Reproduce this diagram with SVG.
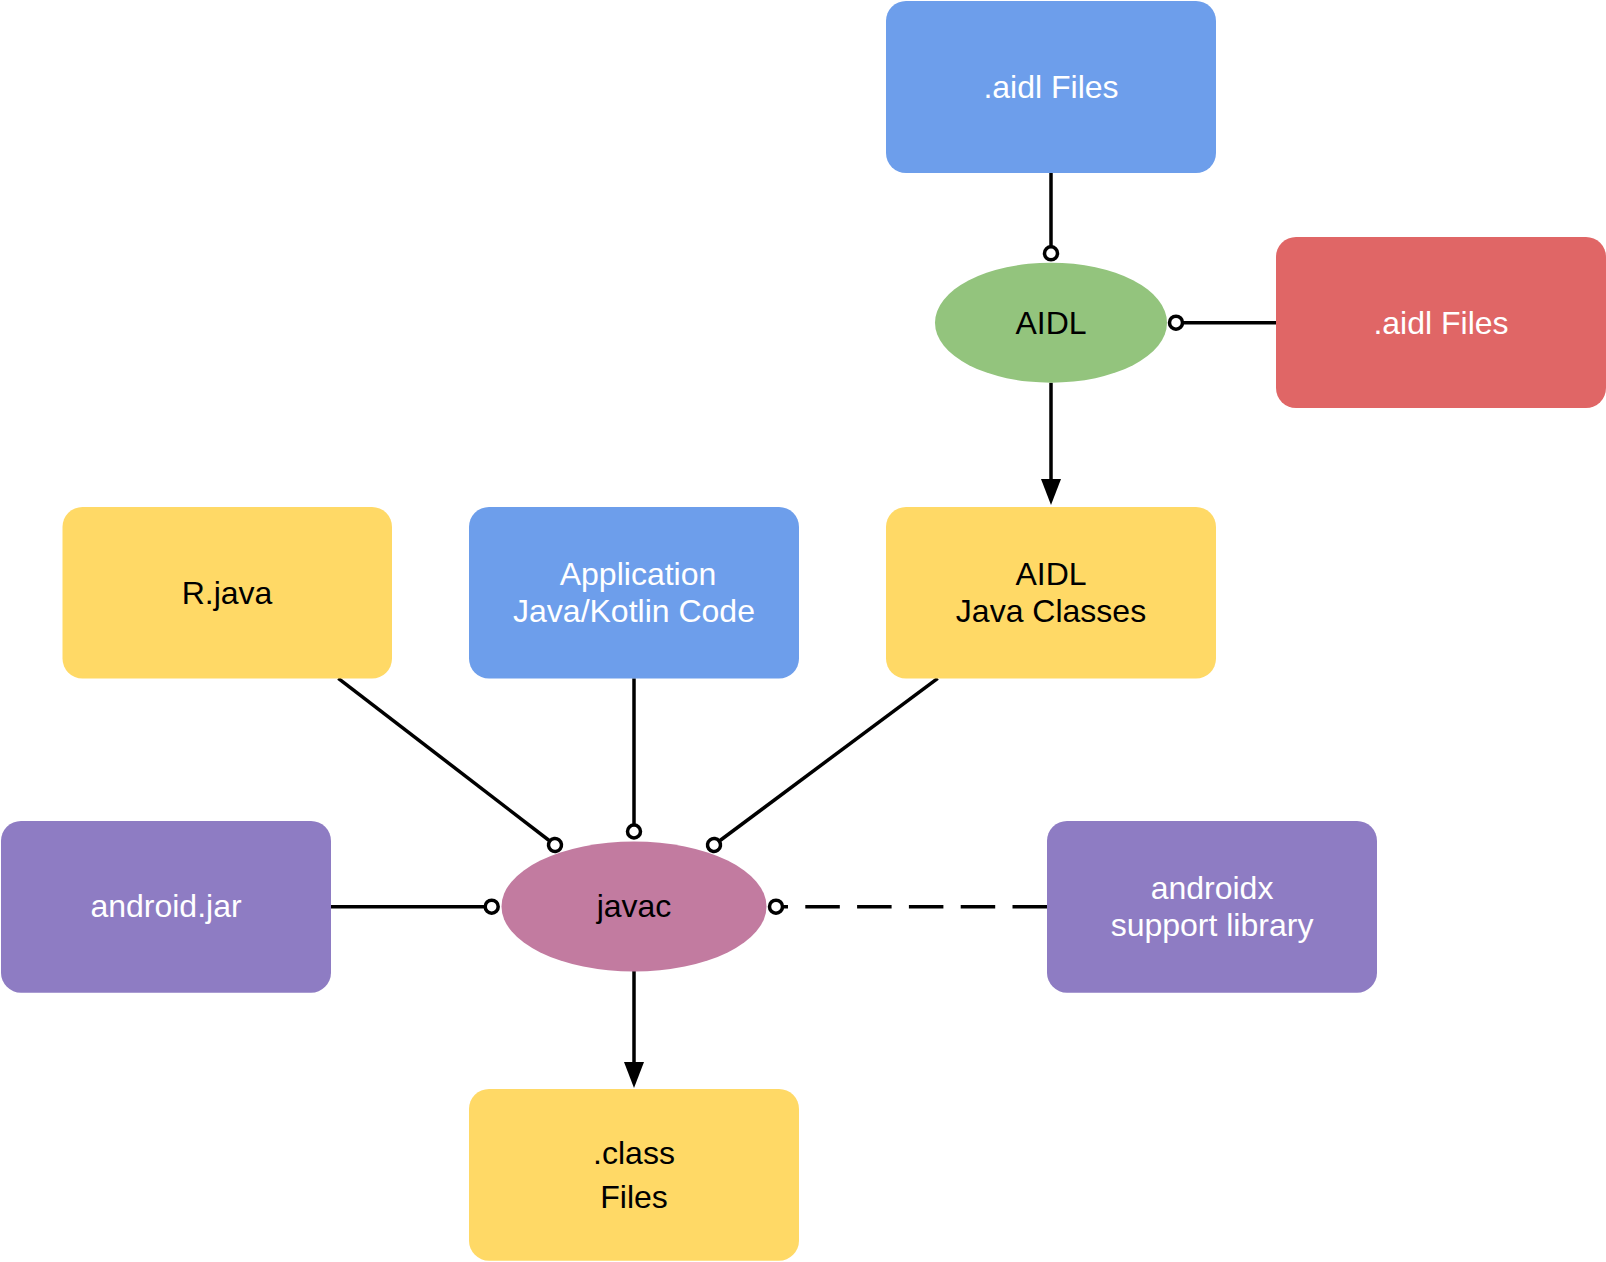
<svg xmlns="http://www.w3.org/2000/svg" width="1606" height="1262" viewBox="0 0 1606 1262">
  <style>
    .lbl { font-family: "Liberation Sans", Arial, Helvetica, sans-serif; font-size: 32px; text-anchor: middle; }
    .w { fill: #ffffff; }
    .k { fill: #000000; }
    .conn { fill: none; stroke: #000000; stroke-width: 3.5; }
    .dash { stroke-dasharray: 34.5 17.3; }
  </style>
  <defs>
    <marker id="dot" viewBox="-10 -10 20 20" refX="0" refY="0" markerWidth="20" markerHeight="20" markerUnits="userSpaceOnUse" orient="auto">
      <circle cx="0" cy="0" r="6.5" fill="#ffffff" stroke="#000000" stroke-width="3.5"/>
    </marker>
    <marker id="arrow" viewBox="0 0 26 20" refX="0" refY="10" markerWidth="26" markerHeight="20" markerUnits="userSpaceOnUse" orient="auto">
      <path d="M0,0 L26,10 L0,20 Z" fill="#000000"/>
    </marker>
  </defs>
  <rect width="1606" height="1262" fill="#ffffff"/>

  <g id="connectors">
    <path class="conn" d="M1051,172.7 V253.3" marker-end="url(#dot)"/>
    <path class="conn" d="M1276,322.7 H1176" marker-end="url(#dot)"/>
    <path class="conn" d="M1051,382.7 V479" marker-end="url(#arrow)"/>
    <path class="conn" d="M338.3,678.3 L555,845" marker-end="url(#dot)"/>
    <path class="conn" d="M634,678.3 V831.5" marker-end="url(#dot)"/>
    <path class="conn" d="M937.7,678.3 L714,845" marker-end="url(#dot)"/>
    <path class="conn" d="M330.7,906.7 H491.7" marker-end="url(#dot)"/>
    <path class="conn dash" d="M1047,906.7 H776" marker-end="url(#dot)"/>
    <path class="conn" d="M634,971 V1062" marker-end="url(#arrow)"/>
  </g>

  <g id="aidl-files-top">
    <rect x="886" y="1" width="330" height="172" rx="20" fill="#6d9eeb"/>
    <text class="lbl w" x="1051" y="97.7">.aidl Files</text>
  </g>
  <g id="aidl-files-red">
    <rect x="1276" y="237" width="330" height="171" rx="20" fill="#e06666"/>
    <text class="lbl w" x="1441" y="333.5">.aidl Files</text>
  </g>
  <g id="aidl-tool">
    <ellipse cx="1051" cy="322.7" rx="116" ry="60" fill="#93c47d"/>
    <text class="lbl k" x="1051" y="333.5">AIDL</text>
  </g>
  <g id="r-java">
    <rect x="62.5" y="507" width="329.5" height="171.5" rx="20" fill="#ffd966"/>
    <text class="lbl k" x="227" y="604">R.java</text>
  </g>
  <g id="app-code">
    <rect x="469" y="507" width="330" height="171.5" rx="20" fill="#6d9eeb"/>
    <text class="lbl w" x="638" y="585">Application</text>
    <text class="lbl w" x="634" y="622">Java/Kotlin Code</text>
  </g>
  <g id="aidl-java-classes">
    <rect x="886" y="507" width="330" height="171.5" rx="20" fill="#ffd966"/>
    <text class="lbl k" x="1051" y="585">AIDL</text>
    <text class="lbl k" x="1051" y="622">Java Classes</text>
  </g>
  <g id="android-jar">
    <rect x="1" y="821" width="330" height="171.7" rx="20" fill="#8e7cc3"/>
    <text class="lbl w" x="166" y="917.3">android.jar</text>
  </g>
  <g id="javac">
    <ellipse cx="634" cy="906.5" rx="132.5" ry="65" fill="#c27ba0"/>
    <text class="lbl k" x="634" y="917.3">javac</text>
  </g>
  <g id="androidx">
    <rect x="1047" y="821" width="330" height="171.7" rx="20" fill="#8e7cc3"/>
    <text class="lbl w" x="1212" y="898.5">androidx</text>
    <text class="lbl w" x="1212" y="935.5">support library</text>
  </g>
  <g id="class-files">
    <rect x="469" y="1089" width="330" height="171.7" rx="20" fill="#ffd966"/>
    <text class="lbl k" x="634" y="1164">.class</text>
    <text class="lbl k" x="634" y="1208">Files</text>
  </g>
</svg>
